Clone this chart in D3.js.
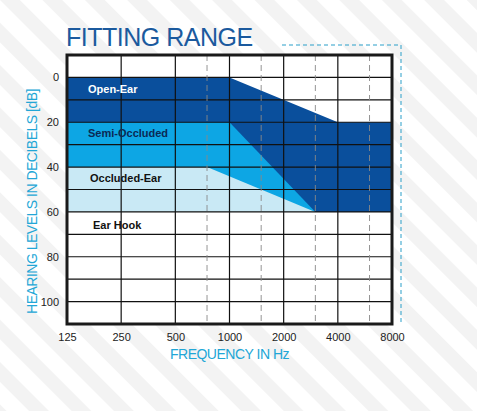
<!DOCTYPE html>
<html><head><meta charset="utf-8">
<script src="https://cdn.jsdelivr.net/npm/d3@7"></script>
<style>body{margin:0;background:#fff}</style></head>
<body><svg id="c" width="477" height="411"></svg>
<script>
const freqTicks = [125,250,500,1000,2000,4000,8000];
const halfTicks = [750,1500,3000,6000];
const dbTicks = [0,20,40,60,80,100];
const dbGrid = [0,10,20,30,40,50,60,70,80,90,100];
const openEar = [[125,0],[1000,0],[4000,20],[8000,20],[8000,60],[125,60]];
const semiOccluded = [[125,20],[1000,20],[3000,60],[125,60]];
const occludedEar = [[125,40],[750,40],[3000,60],[125,60]];
const labels = [["Open-Ear",88,5,"#fff"],["Semi-Occluded",88,25,"#0b2a55"],["Occluded-Ear",90,45,"#111"],["Ear Hook",93,66,"#111"]];

const svg = d3.select("#c");
const defs = svg.append("defs");
const pat = defs.append("pattern").attr("id","st").attr("width",30).attr("height",30)
  .attr("patternUnits","userSpaceOnUse").attr("patternTransform","rotate(-45)");
pat.append("rect").attr("width",14).attr("height",30).attr("fill","#f3f3f3");
svg.append("rect").attr("width",477).attr("height",411).attr("fill","url(#st)");

const L=67,R=392,T=55,B=324;
const x = d3.scaleLog().base(2).domain([125,8000]).range([L,R]);
const y = d3.scaleLinear().domain([-10,110]).range([T,B]);
svg.append("rect").attr("x",L).attr("y",T).attr("width",R-L).attr("height",B-T).attr("fill","#fff");
const line = d3.line().x(d=>x(d[0])).y(d=>y(d[1]));
[[openEar,"#0a4f9c"],[semiOccluded,"#0da6e4"],[occludedEar,"#c9e9f5"]].forEach(([p,c])=>
  svg.append("path").attr("d",line(p)+"Z").attr("fill",c));

const g = svg.append("g");
dbGrid.forEach(v=>g.append("line").attr("x1",L).attr("x2",R).attr("y1",y(v)).attr("y2",y(v)).attr("stroke","#111").attr("stroke-width",1.2));
freqTicks.forEach(v=>g.append("line").attr("x1",x(v)).attr("x2",x(v)).attr("y1",T).attr("y2",B).attr("stroke","#111").attr("stroke-width",1.2));
halfTicks.forEach(v=>g.append("line").attr("x1",x(v)).attr("x2",x(v)).attr("y1",T).attr("y2",B).attr("stroke","#888").attr("stroke-width",0.9).attr("stroke-dasharray","6,4"));
svg.append("rect").attr("x",L).attr("y",T).attr("width",R-L).attr("height",B-T).attr("fill","none").attr("stroke","#1a1a1a").attr("stroke-width",3);

labels.forEach(([t,f,v,c])=>svg.append("text").attr("x",f).attr("y",y(v)+4).attr("fill",c)
  .attr("font-family","Liberation Sans, Arial").attr("font-weight","bold").attr("font-size",11).text(t));

const xa = svg.append("g").attr("transform",`translate(0,${B})`)
  .call(d3.axisBottom(x).tickValues(freqTicks).tickSize(0).tickPadding(9).tickFormat(d3.format("d")));
xa.select(".domain").remove();
xa.selectAll("text").attr("font-family","Liberation Sans, Arial").attr("font-size",11).attr("fill","#222");
const ya = svg.append("g").attr("transform",`translate(${L},0)`)
  .call(d3.axisLeft(y).tickValues(dbTicks).tickSize(0).tickPadding(8));
ya.select(".domain").remove();
ya.selectAll("text").attr("font-family","Liberation Sans, Arial").attr("font-size",11).attr("fill","#222");

svg.append("text").attr("x",66).attr("y",46).attr("fill","#1b5a9e").attr("font-family","Liberation Sans, Arial")
  .attr("font-size",25).attr("letter-spacing",-0.5).text("FITTING RANGE");
svg.append("path").attr("d",`M282,45H401V${B}`).attr("fill","none").attr("stroke","#2a9fc9").attr("stroke-width",1).attr("stroke-dasharray","4,3");
svg.append("text").attr("x",(L+R)/2).attr("y",359).attr("text-anchor","middle").attr("fill","#22a6d6")
  .attr("font-family","Liberation Sans, Arial").attr("font-size",14).attr("letter-spacing",-0.5).text("FREQUENCY IN Hz");
svg.append("text").attr("transform",`translate(37,${(T+B)/2+12}) rotate(-90)`).attr("text-anchor","middle").attr("fill","#22a6d6")
  .attr("font-family","Liberation Sans, Arial").attr("font-size",14).attr("letter-spacing",-0.5).text("HEARING LEVELS IN DECIBELS [dB]");
</script></body></html>
